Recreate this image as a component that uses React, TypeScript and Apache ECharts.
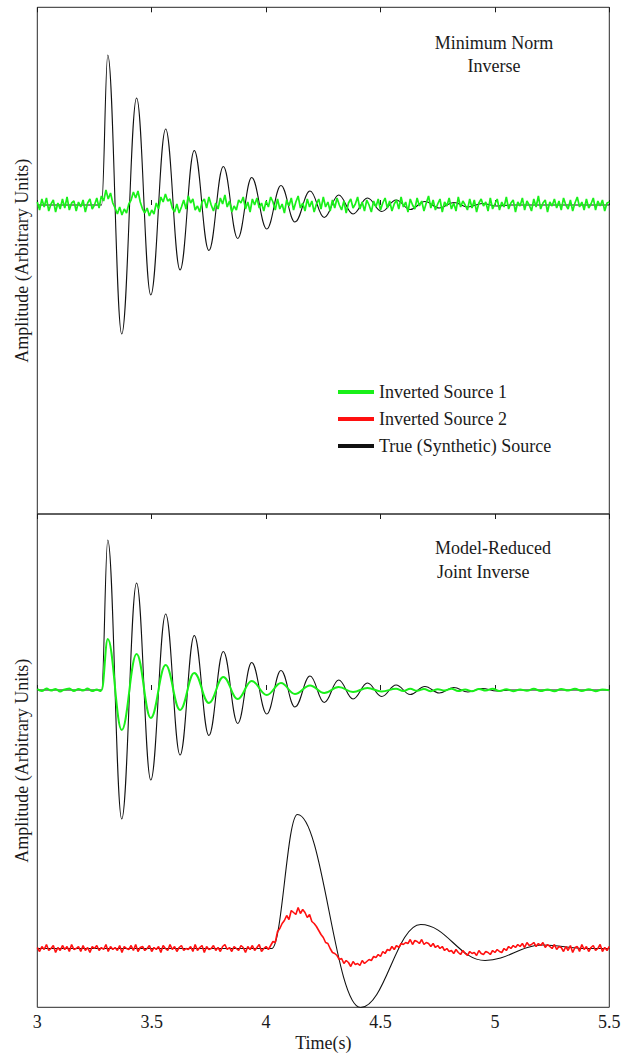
import React, { useEffect, useRef } from "react";
import * as echarts from "echarts";

// ---------- data (amplitudes in arbitrary units) ----------
const X_MIN = 3;
const X_MAX = 5.5;
const X_INTERVAL = 0.5;
const SAMPLE_START = 3.0;
const SAMPLE_STEP = 0.01;

const PANEL_TOP_LABEL = ["Minimum Norm", "Inverse"];
const PANEL_BOTTOM_LABEL = ["Model-Reduced", "Joint Inverse"];
const SERIES_NAMES = ["Inverted Source 1", "Inverted Source 2", "True (Synthetic) Source"];

// True (synthetic) source 1: extrema of the damped oscillation [time, amplitude]
const TRUE_SOURCE_1: [number, number][] = [
  [3.0, 0], [3.281, 0], [3.308, 1.5], [3.369, -1.29], [3.434, 1.07], [3.496, -0.9],
  [3.561, 0.76], [3.624, -0.65], [3.686, 0.545], [3.75, -0.455], [3.813, 0.385],
  [3.876, -0.335], [3.937, 0.275], [4.003, -0.24], [4.065, 0.195], [4.126, -0.17],
  [4.192, 0.14], [4.254, -0.125], [4.317, 0.1], [4.38, -0.09], [4.443, 0.07],
  [4.505, -0.065], [4.568, 0.05], [4.63, -0.045], [4.694, 0.035], [4.757, -0.03],
  [4.82, 0.025], [4.882, -0.02], [4.945, 0.015], [5.008, -0.01], [5.07, 0], [5.5, 0],
];

// True (synthetic) source 2: extrema [time, amplitude]
const TRUE_SOURCE_2: [number, number][] = [
  [3.0, 0], [4.0245, 0], [4.137, 1.34], [4.413, -0.59], [4.676, 0.24],
  [4.957, -0.12], [5.21, 0.035], [5.4, 0], [5.5, 0],
];

// Minimum-norm inversion of source 1, sampled every 0.01 s from 3.00 to 5.50
const MIN_NORM_SOURCE_1: number[] = [
  0.03, -0.05, 0.06, -0.02, 0.07, -0.06, 0.01, 0.05, -0.07, 0.02,
  -0.04, 0.06, -0.03, 0.08, -0.05, 0.02, 0.04, -0.06, 0.03, -0.02,
  0.05, -0.07, 0.02, 0.06, -0.04, 0.0, 0.07, -0.03, 0.09, 0.04,
  0.15, 0.06, 0.12, 0.02, -0.03, -0.09, -0.02, -0.1, -0.04, -0.08,
  0.01, 0.05, 0.13, 0.07, 0.14, 0.03, -0.04, -0.08, -0.03, -0.11,
  -0.05, -0.09, 0.02, -0.04, 0.08, 0.03, 0.11, 0.04, 0.06, -0.03,
  -0.07, 0.01, -0.08, -0.02, 0.05, -0.04, 0.09, 0.02, 0.06, -0.05,
  -0.01, -0.07, 0.03, 0.06, -0.03, 0.08, 0.0, -0.06, 0.02, -0.04,
  0.07, 0.01, 0.1, -0.02, 0.04, -0.07, -0.01, -0.05, 0.05, 0.02,
  0.08, -0.04, 0.03, -0.07, 0.06, 0.0, 0.07, -0.03, 0.02, -0.06,
  0.04, -0.02, 0.08, 0.03, -0.05, 0.06, -0.04, 0.01, -0.08, 0.05,
  -0.01, 0.07, -0.05, 0.03, 0.09, -0.03, 0.02, -0.06, 0.06, -0.02,
  0.04, -0.07, 0.01, 0.06, -0.04, 0.08, -0.02, 0.03, -0.06, 0.05,
  -0.03, 0.07, 0.0, -0.05, 0.04, -0.08, 0.02, 0.06, -0.03, 0.01,
  0.08, -0.04, 0.03, -0.06, 0.05, 0.0, -0.07, 0.04, -0.02, 0.06,
  -0.05, 0.02, 0.07, -0.03, 0.04, -0.06, 0.01, 0.05, -0.04, 0.08,
  -0.02, 0.03, -0.07, 0.06, 0.0, -0.04, 0.07, -0.01, 0.04, -0.06,
  0.02, 0.09, -0.03, 0.05, -0.05, 0.01, 0.06, -0.07, 0.03, -0.01,
  0.07, -0.04, 0.02, -0.06, 0.08, -0.02, 0.04, 0.0, -0.05, 0.06,
  -0.03, 0.05, -0.07, 0.02, 0.06, -0.01, 0.03, -0.06, 0.07, -0.04,
  0.01, 0.06, -0.05, 0.03, -0.02, 0.08, -0.04, 0.02, 0.05, -0.07,
  0.03, -0.01, 0.07, -0.05, 0.04, 0.0, -0.06, 0.06, -0.02, 0.09,
  -0.04, 0.02, 0.05, -0.07, 0.03, -0.01, 0.06, -0.03, 0.04, -0.05,
  0.07, 0.0, -0.04, 0.05, -0.06, 0.02, 0.08, -0.02, 0.03, -0.05,
  0.06, -0.03, 0.01, 0.07, -0.05, 0.04, -0.01, 0.05, -0.06, 0.02,
  0.03,
];

// Model-reduced joint inversion of source 1 [time, amplitude]
const JOINT_SOURCE_1: [number, number][] = [
  [3.0, 0.01], [3.02, -0.01], [3.04, 0.015], [3.06, -0.005], [3.08, 0.01], [3.1, -0.015],
  [3.12, 0.005], [3.14, 0.015], [3.16, -0.01], [3.18, 0.01], [3.2, -0.005], [3.22, 0.015],
  [3.24, -0.01], [3.26, 0.005], [3.275, -0.01],
  [3.281, 0], [3.308, 0.51], [3.369, -0.4], [3.434, 0.36], [3.496, -0.28], [3.561, 0.25],
  [3.624, -0.2], [3.686, 0.17], [3.75, -0.13], [3.813, 0.13], [3.876, -0.09], [3.937, 0.09],
  [4.003, -0.05], [4.065, 0.07], [4.126, -0.04], [4.192, 0.045], [4.254, -0.03], [4.317, 0.03],
  [4.38, -0.02], [4.443, 0.02], [4.505, -0.015], [4.568, 0.012],
  [4.6, -0.01], [4.63, 0.012], [4.66, -0.008], [4.69, 0.01], [4.72, -0.012], [4.75, 0.008],
  [4.78, -0.006], [4.81, 0.012], [4.84, -0.01], [4.87, 0.006], [4.9, -0.012], [4.93, 0.01],
  [4.96, -0.006], [4.99, 0.012], [5.02, -0.01], [5.05, 0.008], [5.08, -0.012], [5.11, 0.006],
  [5.14, -0.008], [5.17, 0.012], [5.2, -0.01], [5.23, 0.006], [5.26, -0.012], [5.29, 0.01],
  [5.32, -0.006], [5.35, 0.012], [5.38, -0.01], [5.41, 0.008], [5.44, -0.012], [5.47, 0.006],
  [5.5, -0.004],
];

// Model-reduced joint inversion of source 2, sampled every 0.01 s from 3.00 to 5.50
const JOINT_SOURCE_2: number[] = [
  0.01, -0.03, 0.02, -0.01, 0.04, -0.02, 0.0, 0.03, -0.04, 0.01,
  -0.02, 0.03, -0.01, 0.02, -0.03, 0.04, -0.01, 0.0, 0.02, -0.03,
  0.03, -0.02, 0.01, -0.04, 0.02, 0.0, 0.03, -0.02, 0.01, -0.01,
  0.04, -0.03, 0.02, -0.01, 0.01, -0.02, 0.03, -0.04, 0.02, 0.0,
  -0.01, 0.03, -0.02, 0.04, -0.03, 0.01, 0.02, -0.02, 0.0, 0.03,
  -0.03, 0.01, -0.01, 0.02, -0.04, 0.03, 0.0, -0.02, 0.04, -0.01,
  0.02, -0.03, 0.01, 0.03, -0.02, 0.0, -0.01, 0.02, -0.03, 0.04,
  -0.02, 0.01, 0.03, -0.04, 0.02, -0.01, 0.0, 0.03, -0.02, 0.01,
  -0.03, 0.02, 0.04, -0.01, 0.01, -0.03, 0.02, 0.0, -0.02, 0.03,
  0.01, -0.04, 0.02, -0.01, 0.03, -0.02, 0.01, 0.04, -0.03, 0.0,
  0.02, -0.01, 0.03,
  0.07, 0.06, 0.17, 0.2, 0.25, 0.28, 0.33,
  0.29, 0.38, 0.36, 0.34, 0.41, 0.35, 0.39, 0.36, 0.31, 0.34,
  0.27, 0.25, 0.22, 0.18, 0.14, 0.11, 0.06, 0.05, 0.0, -0.04,
  -0.05, -0.07, -0.11, -0.1, -0.15, -0.12, -0.14, -0.18, -0.13, -0.16,
  -0.15, -0.17, -0.12, -0.15, -0.13, -0.11, -0.12, -0.08, -0.09, -0.06,
  -0.08, -0.03, -0.05, -0.01, -0.02, 0.02, -0.01, 0.03, 0.01, 0.05,
  0.04, 0.06, 0.05, 0.09, 0.04, 0.08, 0.07, 0.05, 0.09, 0.04,
  0.06, 0.05, 0.02, 0.05, 0.01, 0.03, 0.0, 0.02, -0.02, 0.0,
  -0.03, -0.02, -0.05, -0.01, -0.04, -0.06, -0.02, -0.05, -0.07, -0.03,
  -0.05, -0.04, -0.07, -0.02, -0.05, -0.06, -0.03, -0.04, -0.06, -0.02,
  -0.04, -0.01, -0.03, -0.04, 0.0, -0.02, 0.02, 0.0, 0.03, 0.01,
  0.04, 0.02, 0.05, 0.01, 0.06, 0.03, 0.04, 0.06, 0.02, 0.05,
  0.03, 0.06, 0.01, 0.04, 0.02, 0.0, 0.04, -0.01, 0.02, 0.01,
  -0.03, 0.02, -0.02, 0.03, -0.04, 0.01, 0.02, -0.03, 0.04, -0.01,
  0.02, -0.03, 0.01, 0.03, -0.02, 0.0, 0.04, -0.03, 0.01, -0.02, 0.02,
];

// ---------- layout / style ----------
const FONT = '"Liberation Serif", "Times New Roman", serif';
const INK = "#1a1a1a";
const GREEN = "#19f019";
const RED = "#ff1010";
const BLACK = "#111111";
const TOP_Y_RANGE = [-3.09, 1.977];
const BOTTOM_Y_RANGE = [-3.173, 1.76];
const SOURCE_2_OFFSET = -2.585; // vertical display offset of source 2 traces in lower panel

const sampled = (vals: number[], offset = 0) =>
  vals.map((v, i) => [+(SAMPLE_START + i * SAMPLE_STEP).toFixed(2), v + offset]);
const shifted = (pts: [number, number][], offset = 0) => pts.map(([t, v]) => [t, v + offset]);

export default function App() {
  const ref = useRef<HTMLDivElement>(null);

  useEffect(() => {
    document.body.style.margin = "0";
    if (!ref.current) return;
    const chart = echarts.init(ref.current, null, { renderer: "svg" });

    const xBase = (gridIndex: number, position: "top" | "bottom", labels: boolean, name = "") => ({
      type: "value" as const,
      gridIndex,
      position,
      min: X_MIN,
      max: X_MAX,
      interval: X_INTERVAL,
      name,
      nameLocation: "middle" as const,
      nameGap: 27,
      nameTextStyle: { fontFamily: FONT, fontSize: 18, color: INK },
      axisLine: { show: false },
      axisTick: { show: true, inside: true, length: 5, lineStyle: { color: INK, width: 1 } },
      axisLabel: {
        show: labels,
        fontFamily: FONT,
        fontSize: 18,
        color: INK,
        margin: 6,
        formatter: (v: number) => String(v),
      },
      splitLine: { show: false },
    });

    const yBase = (gridIndex: number, range: number[]) => ({
      type: "value" as const,
      gridIndex,
      min: range[0],
      max: range[1],
      name: "Amplitude (Arbitrary Units)",
      nameLocation: "middle" as const,
      nameGap: 6,
      nameRotate: 90,
      nameTextStyle: { fontFamily: FONT, fontSize: 18, color: INK },
      axisLine: { show: false },
      axisTick: { show: false },
      axisLabel: { show: false },
      splitLine: { show: false },
    });

    const lineSeries = (
      name: string,
      data: number[][],
      xAxisIndex: number,
      yAxisIndex: number,
      color: string,
      width: number,
      smooth: boolean
    ) => ({
      type: "line" as const,
      name,
      data,
      xAxisIndex,
      yAxisIndex,
      color,
      showSymbol: false,
      symbol: "none",
      smooth: smooth ? 0.4 : false,
      smoothMonotone: smooth ? ("x" as const) : undefined,
      lineStyle: { color, width },
      itemStyle: { color },
      emphasis: { disabled: true },
    });

    const textEl = (text: string, x: number, y: number, align: string) => ({
      type: "text" as const,
      x,
      y,
      style: {
        text,
        font: `18px ${FONT}`,
        fill: INK,
        align,
        verticalAlign: "middle",
      },
    });

    chart.setOption({
      animation: false,
      grid: [
        { left: 37.3, top: 7.3, width: 572, height: 506.7, show: true, borderColor: "#2a2a2a", borderWidth: 1, backgroundColor: "transparent" },
        { left: 37.3, top: 514, width: 572, height: 493.3, show: true, borderColor: "#2a2a2a", borderWidth: 1, backgroundColor: "transparent" },
      ],
      xAxis: [
        xBase(0, "bottom", false),
        xBase(0, "top", false),
        xBase(1, "bottom", true, "Time(s)"),
        xBase(1, "top", false),
      ],
      yAxis: [yBase(0, TOP_Y_RANGE), yBase(1, BOTTOM_Y_RANGE)],
      legend: {
        data: SERIES_NAMES,
        orient: "vertical",
        left: 333,
        top: 378,
        itemWidth: 36,
        itemHeight: 4,
        itemGap: 9,
        icon: "rect",
        selectedMode: false,
        textStyle: { fontFamily: FONT, fontSize: 18, color: INK, lineHeight: 18 },
      },
      graphic: [
        textEl(PANEL_TOP_LABEL[0], 494, 43, "center"),
        textEl(PANEL_TOP_LABEL[1], 494, 66, "center"),
        textEl(PANEL_BOTTOM_LABEL[0], 493, 548, "center"),
        textEl(PANEL_BOTTOM_LABEL[1], 437, 572, "left"),
      ],
      series: [
        lineSeries(SERIES_NAMES[2], shifted(TRUE_SOURCE_1), 0, 0, BLACK, 1.1, true),
        lineSeries(SERIES_NAMES[0], sampled(MIN_NORM_SOURCE_1), 0, 0, GREEN, 1.7, false),
        lineSeries(SERIES_NAMES[2], shifted(TRUE_SOURCE_1), 2, 1, BLACK, 1.1, true),
        lineSeries(SERIES_NAMES[2], shifted(TRUE_SOURCE_2, SOURCE_2_OFFSET), 2, 1, BLACK, 1.1, true),
        lineSeries(SERIES_NAMES[0], shifted(JOINT_SOURCE_1), 2, 1, GREEN, 2, true),
        lineSeries(SERIES_NAMES[1], sampled(JOINT_SOURCE_2, SOURCE_2_OFFSET), 2, 1, RED, 1.6, false),
      ],
    });

    return () => chart.dispose();
  }, []);

  return <div ref={ref} style={{ width: 632, height: 1054 }} />;
}
